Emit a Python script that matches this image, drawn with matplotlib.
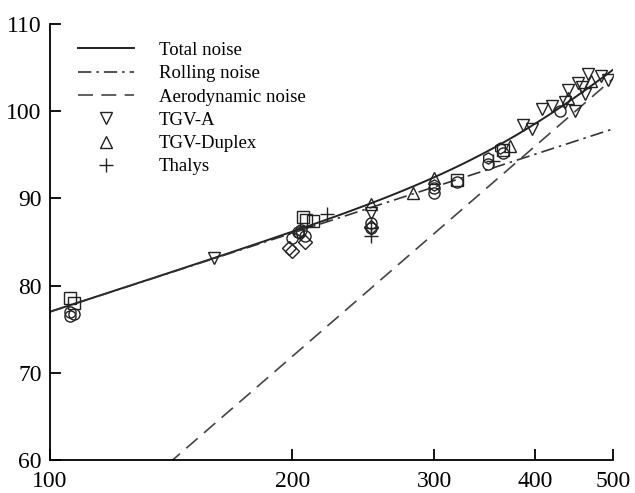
import matplotlib
matplotlib.use("Agg")
import matplotlib.pyplot as plt
import numpy as np

plt.rcParams['font.family'] = ['Liberation Serif', 'DejaVu Serif']

# prediction model (speed in km/h, level in dB)
speed = np.linspace(100, 500, 200)
rolling_ref = 77.0       # rolling noise at 100 km/h
aero_ref_speed = 142.0   # aerodynamic noise is 60 dB here
rolling = rolling_ref + 30 * np.log10(speed / 100)
aero = 60 + 80 * np.log10(speed / aero_ref_speed)
total = 10 * np.log10(10 ** (rolling / 10) + 10 ** (aero / 10))

# measurements
tgva_v = [160, 250, 387, 397, 408, 420, 436, 440, 448, 452, 458, 462, 465, 483, 493]
tgva_l = [83.2, 88.3, 98.4, 98.0, 100.2, 100.6, 101.0, 102.4, 100.0, 103.2, 102.8, 102.0, 104.3, 104.0, 103.6]

duplex_v = [250, 282, 300, 372, 440, 470]
duplex_l = [89.4, 90.6, 92.3, 96.0, 101.5, 103.5]

thalys_v = [221, 250, 250, 355]
thalys_l = [88.2, 85.7, 86.6, 94.3]

circ_v = [106, 106, 107, 200, 203, 205, 207, 250, 250, 300, 300, 320, 350, 365, 430]
circ_l = [76.5, 77.0, 76.8, 85.5, 86.2, 86.4, 85.7, 87.2, 86.6, 90.6, 91.2, 91.9, 94.0, 95.2, 100.0]

sq_v = [106, 107, 206, 208, 212, 320, 365]
sq_l = [78.6, 78.0, 87.9, 87.5, 87.4, 92.1, 95.5]

dia_v = [198, 200, 207, 250]
dia_l = [84.3, 84.0, 85.0, 86.7]

hex_v = [204, 300, 350, 362]
hex_l = [86.0, 91.5, 94.6, 95.8]

fig = plt.figure(figsize=(6.35, 4.93), dpi=100)
ax = fig.add_axes([0.0787, 0.0669, 0.8867, 0.8844])

ax.plot(speed, total, '-', color='#222222', lw=1.4, label='Total noise')
ax.plot(speed, rolling, color='#333333', lw=1.2, dashes=(8, 3, 1.5, 3), label='Rolling noise')
ax.plot(speed, aero, color='#444444', lw=1.2, dashes=(9, 5), label='Aerodynamic noise')

mk = dict(linestyle='none', markerfacecolor='none', markeredgecolor='#222222',
          markeredgewidth=1.0, markersize=8)
ax.plot(circ_v, circ_l, marker='o', label='_nolegend_', **mk)
ax.plot(sq_v, sq_l, marker='s', label='_nolegend_', **mk)
ax.plot(dia_v, dia_l, marker='D', label='_nolegend_', **{**mk, 'markersize': 7})
ax.plot(hex_v, hex_l, marker='h', label='_nolegend_', **mk)
ax.plot(tgva_v, tgva_l, marker='v', label='TGV-A', **mk)
ax.plot(duplex_v, duplex_l, marker='^', label='TGV-Duplex', **mk)
ax.plot(thalys_v, thalys_l, marker='+', label='Thalys', **{**mk, 'markersize': 10})

ax.set_xscale('log')
ax.set_xlim(100, 500)
ax.set_ylim(60, 110)
ax.set_xticks([100, 200, 300, 400, 500])
ax.set_xticklabels(['100', '200', '300', '400', '500'])
ax.xaxis.set_minor_locator(matplotlib.ticker.NullLocator())
ax.set_yticks([60, 70, 80, 90, 100, 110])

for s in ['top', 'right']:
    ax.spines[s].set_visible(False)
for s in ['left', 'bottom']:
    ax.spines[s].set_linewidth(1.3)
ax.tick_params(direction='in', length=8, width=1.3, labelsize=17, pad=6)
ax.tick_params(axis='x', pad=8)

ax.legend(loc='upper left', bbox_to_anchor=(0.03, 0.985), frameon=False,
          fontsize=13.5, handlelength=3.0, handletextpad=1.3, labelspacing=0.33,
          borderaxespad=0.2)

fig.savefig('out.png', dpi=100)
